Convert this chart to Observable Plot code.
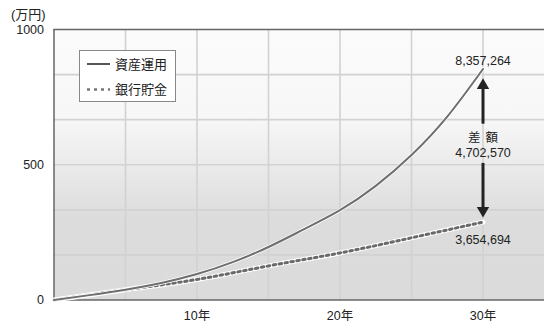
<!DOCTYPE html>
<html>
<head>
<meta charset="utf-8">
<script src="https://cdn.jsdelivr.net/npm/d3@7"></script>
<script src="https://cdn.jsdelivr.net/npm/@observablehq/plot@0.6"></script>
<style>
  html, body { margin: 0; padding: 0; background: #fff; }
  #chart { width: 544px; height: 328px; }
</style>
</head>
<body>
<div id="chart"></div>
<script>
// ---- data ----
const years      = [0, 2.5, 5, 7.5, 10, 12.5, 15, 17.5, 20, 22.5, 25, 27.5, 30];
const assetVals  = [0, 18, 38, 63, 96, 140, 196, 262, 332, 422, 536, 678, 854];
const bankYears  = [0, 5, 10, 15, 20, 25, 30];
const bankVals   = [0, 38, 76, 126, 174, 230, 288];
const seriesNames = ["資産運用", "銀行貯金"];
const xTicks = [10, 20, 30];
const xGrid  = [5, 10, 15, 20, 25, 30];
const yTicks = [0, 500, 1000];
const yGrid  = [1, 2, 3, 4, 5].map(i => i * 1000 / 6);
const unitLabel = "(万円)";
// annotation at year 30
const annotYear = 30;
const topLabel = "8,357,264", topLabelY = 885;
const bottomLabel = "3,654,694", bottomLabelY = 220;
const diffTitle = "差額", diffTitleY = 600;
const diffValue = "4,702,570", diffValueY = 545;
const arrowShafts = [{y1: 650, y2: 795}, {y1: 505, y2: 330}];
const arrowHeads = [{y: 793, rot: 0}, {y: 331, rot: 180}];

const asset = years.map((t, i) => ({t, v: assetVals[i]}));
const bank = bankYears.map((t, i) => ({t, v: bankVals[i]}));

const FONT = '"Liberation Sans", Arial, "Noto Sans CJK JP", sans-serif';

const plot = Plot.plot({
  width: 544,
  height: 328,
  marginLeft: 53.5,
  marginRight: 0,
  marginTop: 29,
  marginBottom: 28.5,
  style: {fontFamily: FONT, fontSize: "12.5px", color: "#222", background: "transparent"},
  x: {domain: [0, 34.3], ticks: xTicks, tickFormat: d => d + "年", tickSize: 0, tickPadding: 11, label: null},
  y: {domain: [0, 1000], ticks: yTicks, tickFormat: d => String(d), tickSize: 0, tickPadding: 10, label: null},
  marks: [
    Plot.frame({fill: "url(#bggrad)", stroke: "none"}),
    Plot.ruleX(xGrid, {stroke: "#d2d2d2", strokeWidth: 1.6}),
    Plot.ruleY(yGrid, {stroke: "#d2d2d2", strokeWidth: 1.6}),
    Plot.ruleX([0], {stroke: "#666", strokeWidth: 1.5}),
    Plot.ruleY([0, 1000], {stroke: "#666", strokeWidth: 1.5}),
    // bank savings: white halo + dotted
    Plot.line(bank, {x: "t", y: "v", stroke: "#fff", strokeWidth: 5, curve: "natural"}),
    Plot.line(bank, {x: "t", y: "v", stroke: "#6a6a6a", strokeWidth: 3, strokeDasharray: "2.5,3.5", curve: "natural"}),
    // asset management: halo + solid
    Plot.line(asset, {x: "t", y: "v", stroke: "#fff", strokeWidth: 3.6, curve: "natural"}),
    Plot.line(asset, {x: "t", y: "v", stroke: "#6e6e6e", strokeWidth: 2, curve: "natural"}),
    // difference arrow
    Plot.ruleX(arrowShafts, {x: () => annotYear, y1: "y1", y2: "y2", stroke: "#222", strokeWidth: 3}),
    Plot.dot(arrowHeads, {x: () => annotYear, y: "y", symbol: "triangle", r: 4.6, fill: "#222", stroke: "none", rotate: "rot"}),
    Plot.text([topLabel], {x: () => annotYear, y: () => topLabelY, text: d => d, fontSize: 12.5, fill: "#222"}),
    Plot.text([bottomLabel], {x: () => annotYear, y: () => bottomLabelY, text: d => d, fontSize: 12.5, fill: "#222"}),
    Plot.text([diffTitle], {x: () => annotYear, y: () => diffTitleY, text: d => d, fontSize: 12.5, fill: "#222"}),
    Plot.text([diffValue], {x: () => annotYear, y: () => diffValueY, text: d => d, fontSize: 12.5, fill: "#222"})
  ]
});

const svg = d3.select(plot);
const defs = svg.insert("defs", ":first-child");
const grad = defs.append("linearGradient").attr("id", "bggrad")
  .attr("x1", 0).attr("y1", 0).attr("x2", 0).attr("y2", 1);
[[0, "#fbfbfb"], [0.33, "#f7f7f7"], [0.7, "#dcdcdc"], [1, "#dbdbdb"]]
  .forEach(([o, c]) => grad.append("stop").attr("offset", o).attr("stop-color", c));

// letter spacing for 差額
svg.selectAll("text").filter(function() { return this.textContent === diffTitle; })
  .attr("letter-spacing", "5px").attr("dx", "2.5px");

// unit label
svg.append("text").attr("x", 11).attr("y", 14).attr("dy", "0.35em").attr("text-anchor", "start")
  .attr("font-size", 13).attr("fill", "#222").attr("font-family", FONT).text(unitLabel);

// legend box
const lg = svg.append("g").attr("font-family", FONT).attr("font-size", 13).attr("fill", "#222")
  .attr("text-anchor", "start");
lg.append("rect").attr("x", 79.5).attr("y", 50.5).attr("width", 96).attr("height", 51)
  .attr("fill", "#fff").attr("stroke", "#888").attr("stroke-width", 1);
lg.append("line").attr("x1", 87).attr("x2", 110).attr("y1", 64).attr("y2", 64)
  .attr("stroke", "#555").attr("stroke-width", 2);
lg.append("line").attr("x1", 87).attr("x2", 110).attr("y1", 89.5).attr("y2", 89.5)
  .attr("stroke", "#777").attr("stroke-width", 2.5).attr("stroke-dasharray", "3,4");
lg.append("text").attr("x", 115).attr("y", 64).attr("dy", "0.35em").text(seriesNames[0]);
lg.append("text").attr("x", 115).attr("y", 89.5).attr("dy", "0.35em").text(seriesNames[1]);

document.getElementById("chart").appendChild(plot);
</script>
</body>
</html>
